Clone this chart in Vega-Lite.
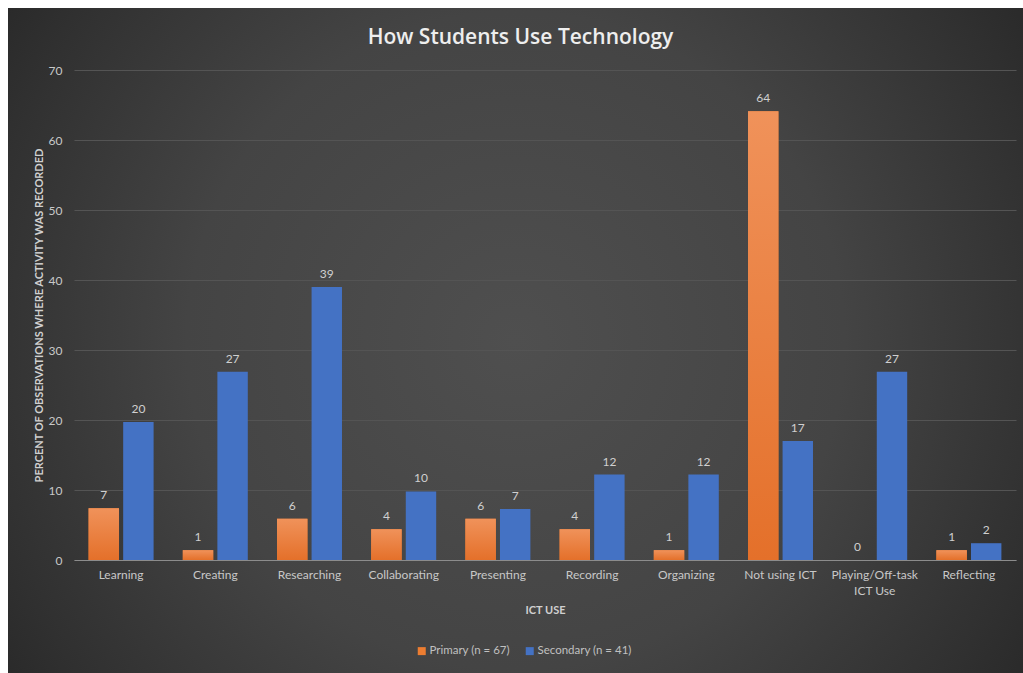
{
  "$schema": "https://vega.github.io/schema/vega-lite/v6.json",
  "width": 1015,
  "height": 665,
  "autosize": {"type": "none"},
  "padding": {"left": 8, "top": 8, "right": 0, "bottom": 0},
  "background": "#ffffff",
  "view": {
    "stroke": null,
    "fill": {
      "gradient": "radial",
      "x1": 0.5, "y1": 0.5, "r1": 0,
      "x2": 0.5, "y2": 0.5, "r2": 0.72,
      "stops": [
        {"offset": 0, "color": "#4f4f4f"},
        {"offset": 0.45, "color": "#444444"},
        {"offset": 0.75, "color": "#303030"},
        {"offset": 1, "color": "#1e1e1e"}
      ]
    }
  },
  "title": {
    "text": "How Students Use Technology",
    "font": "Open Sans",
    "fontSize": 21,
    "fontWeight": 600,
    "color": "#eeeeee",
    "anchor": "middle",
    "baseline": "alphabetic",
    "offset": -57,
    "dx": 5
  },
  "data": {
    "values": [
      {"use": "Learning", "group": "Primary (n = 67)", "value": 7.4, "label": "7"},
      {"use": "Learning", "group": "Secondary (n = 41)", "value": 19.7, "label": "20"},
      {"use": "Creating", "group": "Primary (n = 67)", "value": 1.4, "label": "1"},
      {"use": "Creating", "group": "Secondary (n = 41)", "value": 26.9, "label": "27"},
      {"use": "Researching", "group": "Primary (n = 67)", "value": 5.9, "label": "6"},
      {"use": "Researching", "group": "Secondary (n = 41)", "value": 39.0, "label": "39"},
      {"use": "Collaborating", "group": "Primary (n = 67)", "value": 4.4, "label": "4"},
      {"use": "Collaborating", "group": "Secondary (n = 41)", "value": 9.8, "label": "10"},
      {"use": "Presenting", "group": "Primary (n = 67)", "value": 5.9, "label": "6"},
      {"use": "Presenting", "group": "Secondary (n = 41)", "value": 7.3, "label": "7"},
      {"use": "Recording", "group": "Primary (n = 67)", "value": 4.4, "label": "4"},
      {"use": "Recording", "group": "Secondary (n = 41)", "value": 12.2, "label": "12"},
      {"use": "Organizing", "group": "Primary (n = 67)", "value": 1.4, "label": "1"},
      {"use": "Organizing", "group": "Secondary (n = 41)", "value": 12.2, "label": "12"},
      {"use": "Not using ICT", "group": "Primary (n = 67)", "value": 64.1, "label": "64"},
      {"use": "Not using ICT", "group": "Secondary (n = 41)", "value": 17.0, "label": "17"},
      {"use": "Playing/Off-task ICT Use", "group": "Primary (n = 67)", "value": 0, "label": "0"},
      {"use": "Playing/Off-task ICT Use", "group": "Secondary (n = 41)", "value": 26.9, "label": "27"},
      {"use": "Reflecting", "group": "Primary (n = 67)", "value": 1.4, "label": "1"},
      {"use": "Reflecting", "group": "Secondary (n = 41)", "value": 2.4, "label": "2"}
    ]
  },
  "encoding": {
    "x": {
      "field": "use",
      "type": "nominal",
      "sort": null,
      "scale": {"range": [66, 1008], "paddingInner": 0.31, "paddingOuter": 0.155},
      "axis": {
        "title": "ICT USE",
        "offset": -113,
        "labelAngle": 0,
        "ticks": false,
        "domainColor": "#8c8c8c",
        "domainWidth": 1,
        "labelPadding": 9,
        "labelFont": "Lato",
        "labelFontSize": 12,
        "labelColor": "#c8c8c8",
        "labelLineHeight": 16,
        "labelExpr": "datum.label == 'Playing/Off-task ICT Use' ? ['Playing/Off-task', 'ICT Use'] : datum.label",
        "titleFont": "Lato",
        "titleFontSize": 11,
        "titleFontWeight": "bold",
        "titleColor": "#d0d0d0",
        "titlePadding": 8
      }
    },
    "xOffset": {"field": "group", "sort": null, "scale": {"paddingInner": 0.12, "paddingOuter": 0}},
    "y": {
      "field": "value",
      "type": "quantitative",
      "scale": {"domain": [0, 70], "range": [552, 62], "nice": false, "zero": true},
      "axis": {
        "title": "PERCENT OF OBSERVATIONS WHERE ACTIVITY WAS RECORDED",
        "values": [0, 10, 20, 30, 40, 50, 60, 70],
        "offset": -66,
        "domain": false,
        "ticks": false,
        "grid": true,
        "gridColor": "#545454",
        "gridWidth": 1,
        "labelPadding": 12,
        "labelFont": "Lato",
        "labelFontSize": 12,
        "labelColor": "#c8c8c8",
        "titleFont": "Lato",
        "titleFontSize": 11,
        "titleFontWeight": "bold",
        "titleColor": "#d0d0d0",
        "titlePadding": 4
      }
    }
  },
  "layer": [
    {
      "mark": {"type": "bar"},
      "encoding": {
        "color": {
          "field": "group",
          "type": "nominal",
          "sort": null,
          "scale": {"domain": ["Primary (n = 67)", "Secondary (n = 41)"], "range": ["#ED7D31", "#4472C4"]},
          "legend": {
            "orient": "none",
            "legendX": 408,
            "legendY": 637,
            "direction": "horizontal",
            "title": null,
            "symbolType": "square",
            "symbolSize": 64,
            "symbolStrokeWidth": 0,
            "labelFont": "Lato",
            "labelFontSize": 11.5,
            "labelColor": "#c0c0c0",
            "labelOffset": 2,
            "columnPadding": 14,
            "padding": 0
          }
        }
      }
    },
    {
      "transform": [{"filter": "datum.group == 'Primary (n = 67)'"}],
      "mark": {
        "type": "bar",
        "fill": {
          "gradient": "linear",
          "x1": 0, "y1": 0, "x2": 0, "y2": 1,
          "stops": [
            {"offset": 0, "color": "#F0925A"},
            {"offset": 1, "color": "#E4702A"}
          ]
        }
      }
    },
    {
      "mark": {
        "type": "text",
        "baseline": "alphabetic",
        "dy": -9,
        "font": "Lato",
        "fontSize": 12,
        "color": "#d0d0d0"
      },
      "encoding": {"text": {"field": "label"}}
    }
  ]
}
